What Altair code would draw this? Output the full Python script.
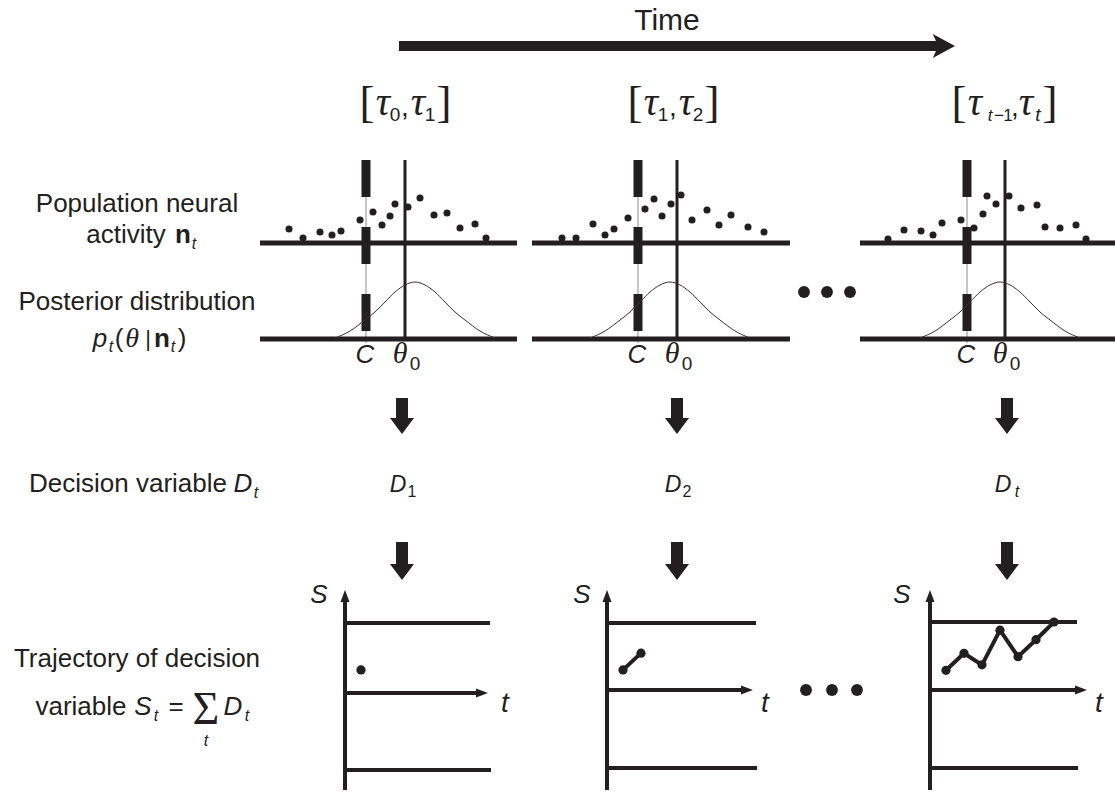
import altair as alt
import pandas as pd

# ------------------------------------------------------------------ data
TIME_LABEL = "Time"
interval_subs = [("0", "1"), ("1", "2"), ("t−1", "t")]
row_labels = ["Population neural", "activity", "Posterior distribution",
              "Decision variable", "Trajectory of decision", "variable"]
decision_subs = ["1", "2", "t"]

# population activity: neuron position along the stimulus axis and its response
neuron_x = [
    [29, 43, 60, 72, 81, 100, 113, 122, 130, 135, 148, 160, 174, 187, 200, 215, 226],
    [30, 44, 61, 73, 82, 96, 113, 122, 130, 139, 149, 160, 175, 187, 199, 216, 232],
    [28, 44, 61, 73, 82, 101, 114, 123, 127, 136, 149, 161, 177, 185, 200, 216, 226],
]
neuron_r = [
    [14, 5, 11, 8, 12, 23, 31, 18, 27, 39, 36, 45, 28, 30, 15, 19, 5],
    [5, 5, 19, 8, 14, 25, 34, 44, 27, 39, 48, 23, 33, 18, 28, 16, 11],
    [4, 13, 12, 8, 20, 23, 15, 29, 47, 39, 47, 35, 38, 16, 15, 18, 4],
]
# posterior curve: offset from peak, height
post_dx = [-80, -65, -50, -40, -30, -20, -10, 0, 10, 20, 30, 40, 50, 65, 80]
post_h = [1, 8, 19, 27, 37, 47, 54, 57, 54, 47, 37, 27, 19, 8, 1]
post_shift = [10, -7, -5]
# accumulated decision variable (fraction of the upper bound) per step
traj_S = [[0.33], [0.30, 0.55], [0.29, 0.54, 0.37, 0.88, 0.49, 0.74, 1.0]]

# ---------------------------------------------------------------- layout
W, H = 1115, 794
INK = "#231f20"
GRAY = "#b3b3b3"
panel_x0 = [260, 532, 860]
panel_x1 = [517, 790, 1115]
crit_x = [366, 638, 967]
theta_x = [405, 677, 1005]
arrow_x = [402, 677, 1007]
ACT_Y, POST_Y, LINE_TOP = 243, 339, 160
ax_x = [345, 607, 930]
hi_y = [623, 623, 622]
axis_y = [693, 690, 690]
lo_y = [770, 768, 768]
line_end = [490, 756, 1077]
axis_tip = [488, 753, 1087]
# x of: "[", tau, sub-a, ",", tau, sub-b, "]"
bracket_pos = [
    [367, 383, 395, 405, 418, 430, 444],
    [635, 651, 663, 673, 686, 698, 712],
    [959, 975, 990, 1015, 1026, 1038, 1050],
]

rules, dashed, gauss, traj, dots, texts = [], [], [], [], [], []
heads = {"down": [], "up": [], "right": [], "time": []}


def rule(x, y, x2, y2, w, c=INK):
    rules.append(dict(x=x, y=y, x2=x2, y2=y2, w=w, c=c))


def txt(t, x, y, fs, g):
    texts.append(dict(t=t, x=x, y=y, fs=fs, g=g))


# time arrow
rule(399, 46, 940, 46, 10)
heads["time"].append(dict(x=943, y=46))
txt(TIME_LABEL, 667, 30, 30, "sans")

for p in range(3):
    # interval label
    bp = bracket_pos[p]
    a, b = interval_subs[p]
    txt("[", bp[0], 117, 45, "serif")
    txt("τ", bp[1], 115, 40, "serifI")
    txt(",", bp[3], 116, 28, "sans")
    txt("τ", bp[4], 115, 40, "serifI")
    txt("]", bp[6], 117, 45, "serif")
    if p < 2:
        txt(a, bp[2], 121, 19, "sans")
        txt(b, bp[5], 121, 19, "sans")
    else:
        txt("t", bp[2], 121, 17, "sansI")
        txt("−", bp[2] + 9, 121, 17, "sans")
        txt("1", bp[2] + 18, 121, 17, "sans")
        txt("t", bp[5], 121, 19, "sansI")

    x0, x1 = panel_x0[p], panel_x1[p]
    rule(crit_x[p], LINE_TOP, crit_x[p], POST_Y + 4, 1.5, GRAY)
    dashed.append(dict(x=crit_x[p], y=LINE_TOP, y2=POST_Y - 5))
    rule(x0, ACT_Y, x1, ACT_Y, 5)
    rule(x0, POST_Y, x1, POST_Y, 5)
    rule(theta_x[p], LINE_TOP, theta_x[p], POST_Y, 3)
    for nx, nr in zip(neuron_x[p], neuron_r[p]):
        dots.append(dict(x=x0 + nx, y=ACT_Y - nr, s=50))
    for i, (dx, h) in enumerate(zip(post_dx, post_h)):
        gauss.append(dict(x=theta_x[p] + post_shift[p] + dx, y=POST_Y - h, o=i, p=p))
    txt("C", crit_x[p] - 1, 363, 26, "sansI")
    txt("θ", theta_x[p] - 5, 363, 30, "serifI")
    txt("0", theta_x[p] + 10, 370, 19, "sans")

    # arrows and decision variable
    rule(arrow_x[p], 398, arrow_x[p], 421, 12)
    heads["down"].append(dict(x=arrow_x[p], y=426))
    rule(arrow_x[p], 542, arrow_x[p], 567, 12)
    heads["down"].append(dict(x=arrow_x[p], y=572))
    txt("D", arrow_x[p] - 4, 492, 23, "sansI")
    txt(decision_subs[p], arrow_x[p] + 10, 497, 16, "sansI" if p == 2 else "sans")

    # trajectory panel
    ax = ax_x[p]
    rule(ax, 597, ax, 790, 4)
    heads["up"].append(dict(x=ax, y=596))
    rule(ax, hi_y[p], line_end[p], hi_y[p], 4)
    rule(ax, lo_y[p], line_end[p] + 1, lo_y[p], 4)
    rule(ax, axis_y[p], axis_tip[p] - 6, axis_y[p], 4)
    heads["right"].append(dict(x=axis_tip[p] - 6, y=axis_y[p]))
    for i, s in enumerate(traj_S[p]):
        px = ax + 16 + 18 * i
        py = axis_y[p] - s * (axis_y[p] - hi_y[p])
        traj.append(dict(x=px, y=py, o=i, p=p))
        dots.append(dict(x=px, y=py, s=85))

S_lab_x = [319, 582, 902]
t_lab_x = [505, 765, 1099]
for p in range(3):
    txt("S", S_lab_x[p], 603, 26, "sansI")
    txt("t", t_lab_x[p], 712, 28, "sansI")

# ellipsis dots
for ex in [804, 827, 850]:
    dots.append(dict(x=ex, y=292, s=140))
for ex in [806, 832, 857]:
    dots.append(dict(x=ex, y=690, s=140))

# left-hand labels
txt(row_labels[0], 137, 212, 26, "sans")
txt(row_labels[1], 126, 243, 26, "sans")
txt("n", 183, 243, 26, "sansB")
txt("t", 194, 249, 16, "sansI")
txt(row_labels[2], 137, 310, 26, "sans")
txt("p", 100, 347, 26, "sansI")
txt("t", 111, 352, 16, "sansI")
txt("(", 119, 347, 26, "sans")
txt("θ", 132, 347, 28, "serifI")
txt("|", 148, 346, 22, "sans")
txt("n", 162, 347, 26, "sansB")
txt("t", 173, 352, 16, "sansI")
txt(")", 182, 347, 26, "sans")
txt(row_labels[3], 128, 492, 26, "sans")
txt("D", 243, 492, 26, "sansI")
txt("t", 256, 498, 16, "sansI")
txt(row_labels[4], 137, 667, 26, "sans")
txt(row_labels[5], 81, 715, 26, "sans")
txt("S", 143, 715, 26, "sansI")
txt("t", 156, 721, 16, "sansI")
txt("=", 176, 715, 26, "sans")
txt("Σ", 206, 724, 46, "serif")
txt("t", 206, 746, 16, "sansI")
txt("D", 233, 715, 26, "sansI")
txt("t", 247, 721, 16, "sansI")

# ---------------------------------------------------------------- chart
xs = alt.Scale(domain=[0, W], nice=False, zero=False)
ys = alt.Scale(domain=[0, H], nice=False, zero=False, reverse=True)
X = alt.X("x:Q", scale=xs, axis=None)
Y = alt.Y("y:Q", scale=ys, axis=None)

layers = []
layers.append(alt.Chart(pd.DataFrame(rules)).mark_rule(strokeCap="butt").encode(
    x=X, y=Y, x2="x2:Q", y2="y2:Q",
    strokeWidth=alt.StrokeWidth("w:Q", scale=None),
    color=alt.Color("c:N", scale=None)))
layers.append(alt.Chart(pd.DataFrame(dashed)).mark_rule(
    strokeCap="butt", strokeWidth=9, strokeDash=[37, 30], color=INK).encode(
    x=X, y=Y, y2="y2:Q"))
layers.append(alt.Chart(pd.DataFrame(gauss)).mark_line(
    interpolate="monotone", strokeWidth=1, color="#333333").encode(
    x=X, y=Y, detail="p:N", order="o:Q"))
layers.append(alt.Chart(pd.DataFrame(traj)).mark_line(
    strokeWidth=4, color=INK).encode(x=X, y=Y, detail="p:N", order="o:Q"))
layers.append(alt.Chart(pd.DataFrame(dots)).mark_circle(opacity=1, color=INK).encode(
    x=X, y=Y, size=alt.Size("s:Q", scale=None)))

shapes = {
    "down": ("M-1,-0.67L1,-0.67L0,0.67Z", 576),
    "up": ("M0,-1L0.75,1L-0.75,1Z", 144),
    "right": ("M1,0L-1,0.75L-1,-0.75Z", 144),
    "time": ("M1,0L-0.85,-1L-0.4,0L-0.85,1Z", 576),
}
for k, (path, size) in shapes.items():
    layers.append(alt.Chart(pd.DataFrame(heads[k])).mark_point(
        shape=path, size=size, filled=True, opacity=1, color=INK, strokeWidth=0).encode(
        x=X, y=Y))

fonts = {
    "sans": dict(font="Liberation Sans"),
    "sansI": dict(font="Liberation Sans", fontStyle="italic"),
    "sansB": dict(font="Liberation Sans", fontWeight="bold"),
    "serif": dict(font="Liberation Serif"),
    "serifI": dict(font="Liberation Serif", fontStyle="italic"),
}
tdf = pd.DataFrame(texts)
for g, props in fonts.items():
    sub = tdf[tdf.g == g]
    layers.append(alt.Chart(sub).mark_text(
        align="center", baseline="alphabetic", color=INK, **props).encode(
        x=X, y=Y, text="t:N", size=alt.Size("fs:Q", scale=None)))

chart = alt.layer(*layers).properties(
    width=W, height=H, padding=0,
    autosize=alt.AutoSizeParams(type="none"),
).configure_view(stroke=None)

chart.save("out.html", embed_options={"renderer": "svg", "actions": False})
